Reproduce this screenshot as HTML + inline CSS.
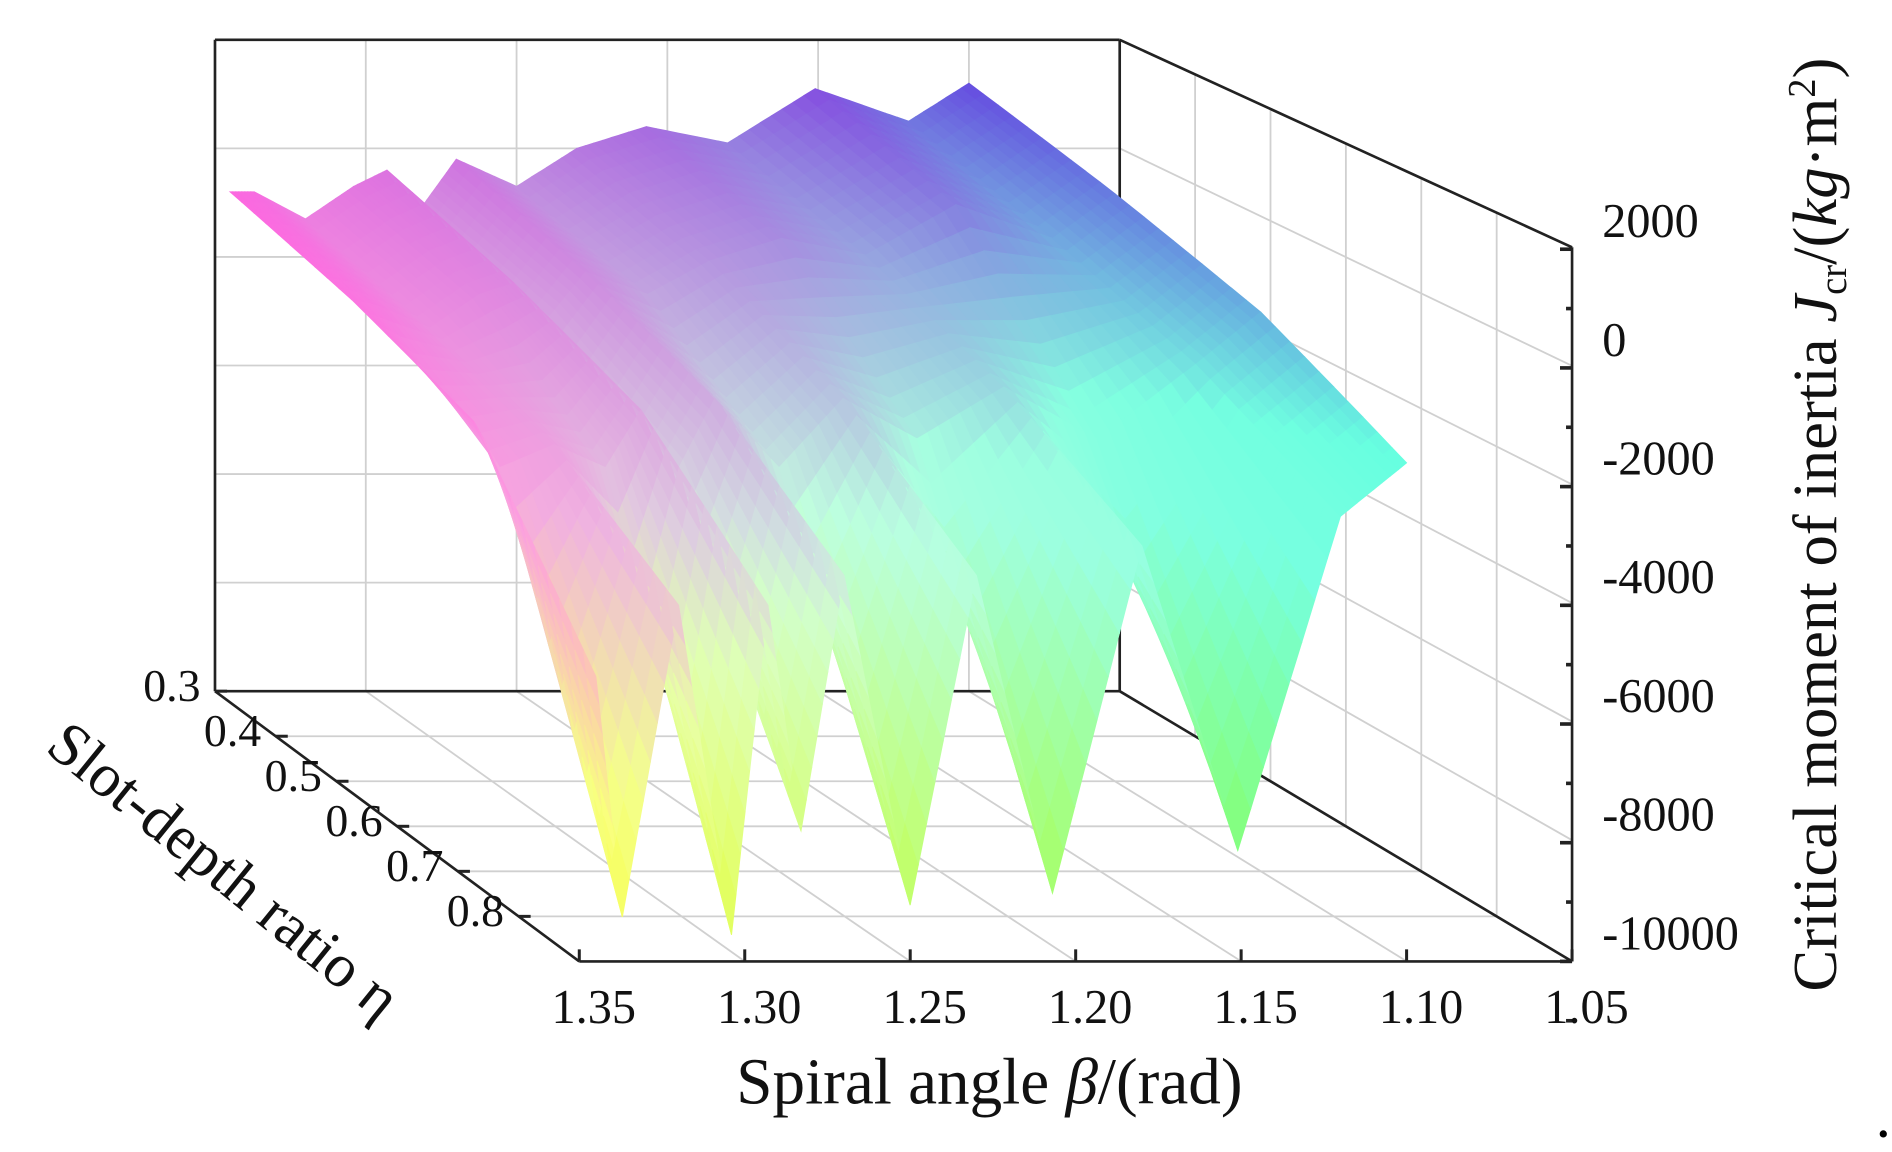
<!DOCTYPE html>
<html><head><meta charset="utf-8"><style>
html,body{margin:0;padding:0;background:#fff;}
svg{display:block;}
text{font-family:"Liberation Serif",serif;fill:#111;}
</style></head><body>
<svg id="chart" width="1892" height="1152" viewBox="0 0 1568 955" xmlns="http://www.w3.org/2000/svg">
<g id="grid"></g>
<g id="backaxes"></g>
<g id="surface"></g>
<g id="axes"></g>
<text x="820" y="915" font-size="54" text-anchor="middle">Spiral angle  <tspan font-style="italic">β</tspan>/(rad)</text>
<text transform="translate(36,622) rotate(39)" font-size="51">Slot-depth ratio η</text>
<text transform="translate(1522,822) rotate(-90)" font-size="52">Critical moment of inertia <tspan font-style="italic">J</tspan><tspan font-size="32" dy="8">cr</tspan><tspan dy="-8">/(</tspan><tspan font-style="italic">kg</tspan>·m<tspan font-size="32" dy="-18">2</tspan><tspan dy="18">)</tspan></text>
<circle cx="1561" cy="940" r="3" fill="#000"/>
</svg>
<script>
const betas=[1.345,1.337,1.32,1.304,1.293,1.283,1.27,1.25,1.23,1.207,1.18,1.151,1.12,1.10];
const etas=[0.3,0.5,0.7,0.9];
const zEta03=[-800,-800,-1300,-700,-400,-1200,-200,-700,0,400,100,1100,500,1200];
const zEta05=[-1400,-1500,-1900,-1300,-1100,-1800,-900,-1300,-700,-300,-600,300,-300,500];
const zEta07=[-2200,-3000,-2600,-3000,-2000,-3200,-1800,-3000,-1800,-2500,-1600,-2500,-1200,-300];
const zEta09=[-5200,-9250,-4000,-9550,-4000,-7800,-3500,-9050,-3500,-8850,-3000,-8130,-2500,-1600];
const zTicks=[2000,0,-2000,-4000,-6000,-8000,-10000];
const betaTicks=[1.35,1.30,1.25,1.20,1.15,1.10,1.05];
const etaTicks=[0.3,0.4,0.5,0.6,0.7,0.8];

const NS='http://www.w3.org/2000/svg';
const zRows=[zEta03,zEta05,zEta07,zEta09];
function P(b,e,z){
  const u=(1.35-b)/0.3, v=(e-0.3)/0.6;
  const xb=178+750*u, xf=480+823*u;
  const x=xb+(xf-xb)*v;
  const ybot=573+224*v;
  const k=0.045+0.0042*v;
  return [x, ybot-(z+10000)*k];
}
function mk(tag,attrs,parent){const el=document.createElementNS(NS,tag);for(const a in attrs)el.setAttribute(a,attrs[a]);parent.appendChild(el);return el;}
const grid=document.getElementById('grid'), axes=document.getElementById('axes'), surf=document.getElementById('surface'), back=document.getElementById('backaxes');
const gc='#d0d0d0';
for(let i=1;i<6;i++){
  let l=mk('line',{x1:178,y1:33+90*i,x2:928,y2:33+90*i,stroke:gc,'stroke-width':1.5},grid);
  
  
  let l2=mk('line',{x1:178+125*i,y1:33,x2:178+125*i,y2:573,stroke:gc,'stroke-width':1.5},grid);
  
  
  let l3=mk('line',{x1:928,y1:33+90*i,x2:1303,y2:205+98.3*i,stroke:gc,'stroke-width':1.5},grid);
  
  
  const t=i/6; let xv=928+375*t;
  let l4=mk('line',{x1:xv,y1:33+172*t,x2:xv,y2:573+224*t,stroke:gc,'stroke-width':1.5},grid);
  
  
  let l5=mk('line',{x1:178+125*i,y1:573,x2:480+137.2*i,y2:797,stroke:gc,'stroke-width':1.5},grid);
  
  
  let l6=mk('line',{x1:178+302*t,y1:573+224*t,x2:928+375*t,y2:573+224*t,stroke:gc,'stroke-width':1.5},grid);
  
  
}
[[178,33,928,33],[178,33,178,573],[928,33,928,573],[178,573,928,573],[928,33,1303,205],[928,573,1303,797]].forEach(s=>{
  const l=mk('line',{x1:s[0],y1:s[1],x2:s[2],y2:s[3],stroke:'#222','stroke-width':2.2},back);
  
  
});
function color(b,z){
  const u=(1.35-b)/0.3;
  let t=(1500-z)/11000; t=Math.max(0,Math.min(1,t));
  const R=1-0.72*u;
  const G=Math.min(1,0.22+t*(0.85+2.4*u));
  const B=0.88-0.55*Math.max(0,(t-0.45)/0.55);
  const c=x=>Math.round(Math.max(0,Math.min(1,x))*255);
  return 'rgb('+c(R)+','+c(G)+','+c(B)+')';
}
const SU=8, SV=10;
for(let r=0;r<etas.length-1;r++){
  for(let sv=0;sv<SV;sv++){
    for(let c=0;c<betas.length-1;c++){
      for(let su=0;su<SU;su++){
        const pts=[];let zs=0,bs=0;
        [[su,sv],[su+1,sv],[su+1,sv+1],[su,sv+1]].forEach(([a,d])=>{
          const fa=a/SU, fd=d/SV;
          const b=betas[c]+(betas[c+1]-betas[c])*fa;
          const e=etas[r]+(etas[r+1]-etas[r])*fd;
          const z0=zRows[r][c]+(zRows[r][c+1]-zRows[r][c])*fa;
          const z1=zRows[r+1][c]+(zRows[r+1][c+1]-zRows[r+1][c])*fa;
          const z=z0+(z1-z0)*fd;
          zs+=z;bs+=b;
          pts.push(P(b,e,z).map(n=>n.toFixed(1)).join(','));
        });
        const col=color(bs/4,zs/4);
        const pg=mk('polygon',{points:pts.join(' '),fill:col,stroke:col,'stroke-width':0.8},surf);
        
        
      }
    }
  }
}
[[1303,205,1303,797],[178,573,480,797],[480,797,1303,797]].forEach(s=>{
  const l=mk('line',{x1:s[0],y1:s[1],x2:s[2],y2:s[3],stroke:'#222','stroke-width':2.2},axes);
  
  
});
function zy(z){return 797-(z+10000)*0.0492;}
zTicks.forEach(z=>{
  const y=zy(z);
  const tk=mk('line',{x1:1293,y1:y,x2:1303,y2:y,stroke:'#222','stroke-width':3},axes);
  
  
  const m=mk('line',{x1:1298,y1:zy(z-1000),x2:1303,y2:zy(z-1000),stroke:'#222','stroke-width':3},axes);
  
  
  const tx=mk('text',{x:1328,y:y-10,'font-size':40},axes);
  tx.textContent=String(z);
  
  
});
betaTicks.forEach(b=>{
  const p=P(b,0.9,-10000);
  const tk=mk('line',{x1:p[0],y1:p[1],x2:p[0],y2:p[1]-10,stroke:'#222','stroke-width':2.5},axes);
  
  
  const tx=mk('text',{x:p[0]+12,y:848,'font-size':40,'text-anchor':'middle'},axes);
  tx.textContent=b.toFixed(2);
  
  
});
etaTicks.forEach(e=>{
  const p=P(1.35,e,-10000);
  const tk=mk('line',{x1:p[0],y1:p[1],x2:p[0]+10,y2:p[1],stroke:'#222','stroke-width':2.5},axes);
  
  
  const tx=mk('text',{x:p[0]-12,y:p[1]+8,'font-size':38,'text-anchor':'end'},axes);
  tx.textContent=e.toFixed(1);
  
  
});
</script>
</body></html>
